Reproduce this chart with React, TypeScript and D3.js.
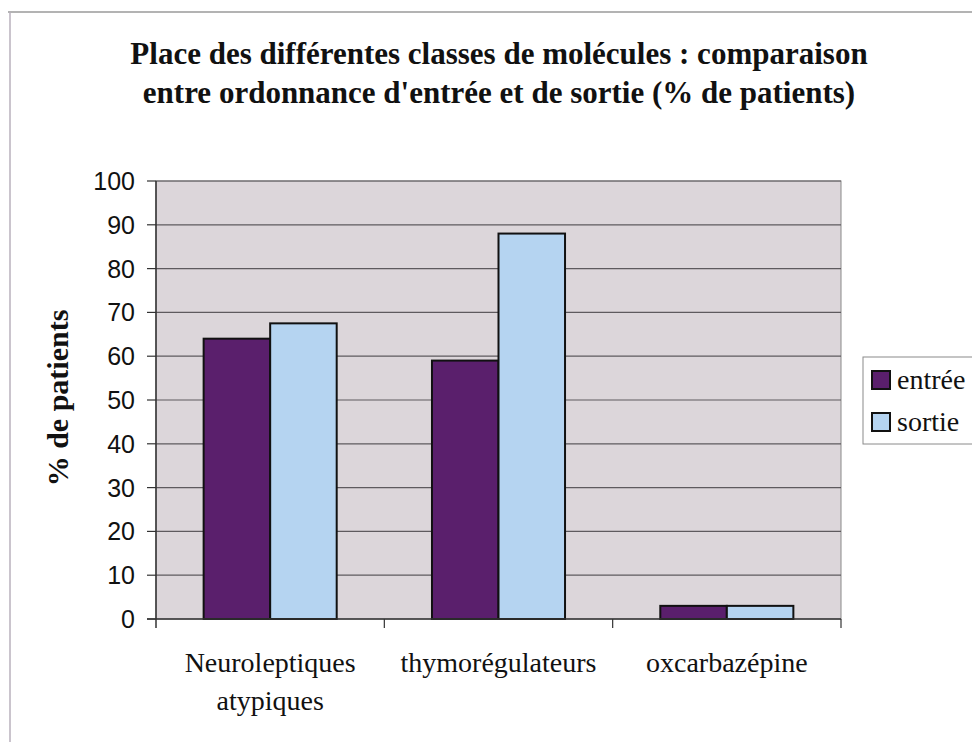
import React from "react";
import * as d3 from "d3";

const titleLines = [
  "Place des différentes classes de molécules : comparaison",
  "entre ordonnance d'entrée et de sortie (% de patients)",
];
const categories = ["Neuroleptiques atypiques", "thymorégulateurs", "oxcarbazépine"];
const categoryLines = [["Neuroleptiques", "atypiques"], ["thymorégulateurs"], ["oxcarbazépine"]];
const seriesNames = ["entrée", "sortie"];
const entree = [64, 59, 3];
const sortie = [67.5, 88, 3];
const yTicks = [0, 10, 20, 30, 40, 50, 60, 70, 80, 90, 100];
const yAxisTitle = "% de patients";

const W = 972;
const H = 742;
const plot = { left: 156, right: 841, top: 181, bottom: 619 };
const colors = ["#5a1f6c", "#b5d4f1"];
const serif = "'Liberation Serif', 'Times New Roman', serif";
const sans = "'Liberation Sans', Arial, sans-serif";

export default function App() {
  const x = d3.scaleBand<string>().domain(categories).range([plot.left, plot.right]).padding(0);
  const inner = d3
    .scaleBand<string>()
    .domain(seriesNames)
    .range([0, x.bandwidth()])
    .paddingInner(0)
    .paddingOuter(0.716);
  const y = d3.scaleLinear().domain([0, 100]).range([plot.bottom, plot.top]);
  const series = [entree, sortie];

  return (
    <svg
      width={W}
      height={H}
      viewBox={`0 0 ${W} ${H}`}
      style={{ position: "absolute", left: 0, top: 0, background: "#fff" }}
    >
      <rect x={0} y={0} width={W} height={H} fill="#fff" />
      {/* outer chart border */}
      <line x1={8} y1={12} x2={W} y2={12} stroke="#9a9a9a" strokeWidth={1.5} />
      <line x1={10} y1={12} x2={10} y2={H} stroke="#b8b0bc" strokeWidth={1.5} />

      {/* title */}
      {titleLines.map((t, i) => (
        <text
          key={i}
          x={499}
          y={64 + i * 39}
          textAnchor="middle"
          fontFamily={serif}
          fontWeight="bold"
          fontSize={31}
          fill="#111"
        >
          {t}
        </text>
      ))}

      {/* plot area */}
      <rect
        x={plot.left}
        y={plot.top}
        width={plot.right - plot.left}
        height={plot.bottom - plot.top}
        fill="#dcd6da"
        stroke="#8a8a8a"
        strokeWidth={1}
      />
      {yTicks
        .filter((t) => t > 0)
        .map((t) => (
          <line
            key={t}
            x1={plot.left}
            x2={plot.right}
            y1={y(t)}
            y2={y(t)}
            stroke="#5e5a5e"
            strokeWidth={1.2}
          />
        ))}

      {/* bars */}
      {categories.map((c, ci) =>
        seriesNames.map((s, si) => (
          <rect
            key={c + s}
            x={(x(c) as number) + (inner(s) as number)}
            y={y(series[si][ci])}
            width={inner.bandwidth()}
            height={y(0) - y(series[si][ci])}
            fill={colors[si]}
            stroke="#111"
            strokeWidth={2}
          />
        ))
      )}

      {/* y axis */}
      <line x1={plot.left} x2={plot.left} y1={plot.top} y2={plot.bottom + 9} stroke="#333" strokeWidth={1.5} />
      {yTicks.map((t) => (
        <g key={t}>
          <line x1={plot.left - 9} x2={plot.left} y1={y(t)} y2={y(t)} stroke="#333" strokeWidth={1.2} />
          <text
            x={135}
            y={y(t)}
            dy="0.36em"
            textAnchor="end"
            fontFamily={sans}
            fontSize={25}
            fill="#111"
          >
            {t}
          </text>
        </g>
      ))}
      <text
        transform={`translate(68, ${398}) rotate(-90)`}
        textAnchor="middle"
        fontFamily={serif}
        fontWeight="bold"
        fontSize={30}
        fill="#111"
      >
        {yAxisTitle}
      </text>

      {/* x axis */}
      <line x1={plot.left - 9} x2={plot.right} y1={plot.bottom} y2={plot.bottom} stroke="#333" strokeWidth={1.5} />
      {categories.map((c) => (
        <line
          key={c}
          x1={(x(c) as number) + x.bandwidth()}
          x2={(x(c) as number) + x.bandwidth()}
          y1={plot.bottom}
          y2={plot.bottom + 9}
          stroke="#333"
          strokeWidth={1.2}
        />
      ))}
      {categories.map((c, ci) => (
        <text
          key={c}
          x={(x(c) as number) + x.bandwidth() / 2}
          y={672}
          textAnchor="middle"
          fontFamily={serif}
          fontSize={28}
          fill="#111"
        >
          {categoryLines[ci].map((l, li) => (
            <tspan key={li} x={(x(c) as number) + x.bandwidth() / 2} dy={li === 0 ? 0 : 38}>
              {l}
            </tspan>
          ))}
        </text>
      ))}

      {/* legend */}
      <rect x={863} y={357} width={W - 863 + 2} height={87} fill="#fff" stroke="#8a8a8a" strokeWidth={1} />
      {seriesNames.map((s, si) => (
        <g key={s}>
          <rect x={872} y={371 + si * 42} width={18} height={18} fill={colors[si]} stroke="#111" strokeWidth={2} />
          <text x={897} y={389 + si * 42} fontFamily={serif} fontSize={28} fill="#111">
            {s}
          </text>
        </g>
      ))}
    </svg>
  );
}
